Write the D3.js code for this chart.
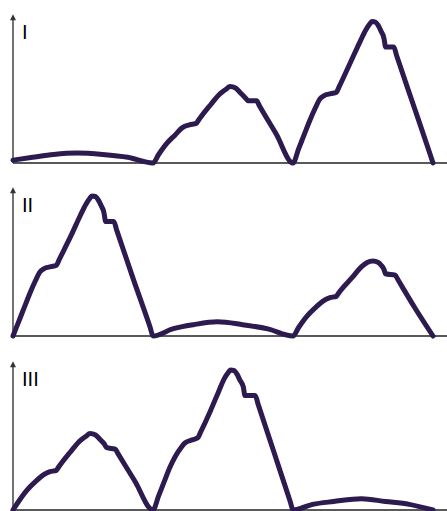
<!DOCTYPE html>
<html>
<head>
<meta charset="utf-8">
<script src="https://cdn.jsdelivr.net/npm/d3@7"></script>
<style>
  body { margin: 0; background: #fff; }
</style>
</head>
<body>
<div id="chart"></div>
<script>
// Panel labels
var panelLabels = ["I", "II", "III"];

// Curve points for each panel: [time, level]
var panelOne = [
  [0, 2], [14, 4], [29, 6], [46, 7], [64, 6], [82, 4], [100, 0],
  [104, 6], [110, 14], [116, 20], [121, 25], [126, 27], [131, 28], [132, 29.5], [141, 41], [148, 49],
  [152, 52], [155, 54], [159, 53], [162, 50], [166, 46], [168, 44], [174, 44], [176, 40.5], [188, 20.5], [200, 0],
  [204, 10], [208, 20], [212, 30], [216, 39], [219, 45], [222, 47.5], [227, 49], [231, 50], [233, 54],
  [241, 71], [248, 86], [252, 94], [255, 98.5], [256.5, 100], [259, 99.5], [261, 97], [263, 93], [265, 88],
  [265.5, 85], [266, 82], [272, 82], [274, 76], [286, 41], [298, 6], [300, 0]
];

var panelTwo = [
  [0, 0], [4, 10], [8, 20], [12, 30], [16, 39], [19, 45], [22, 47.5], [27, 49], [31, 50], [33, 54],
  [41, 70], [48, 85], [52, 93], [55, 97.5], [56.5, 99], [59, 98.5], [61, 96], [63, 92], [65, 87],
  [65.5, 84], [66, 81], [72, 81], [74, 75], [86, 40], [98, 6], [100, 0],
  [114, 5], [129, 8], [146, 10], [164, 8], [182, 5], [200, 0],
  [204, 6], [210, 14], [216, 20], [222, 25], [226, 27], [231, 28], [232, 29.5], [242, 41], [249, 49],
  [253, 52], [257, 53], [261, 52], [263, 50], [265, 47], [266, 44], [273, 43], [275, 39.7], [287, 20], [300, 0]
];

var panelThree = [
  [0, 0], [4, 6], [10, 14], [16, 20], [22, 25], [26, 27], [31, 28], [32, 29.5], [41, 41], [48, 49],
  [52, 52], [55, 54], [59, 53], [62, 50], [65, 47], [67, 44], [73, 43], [75, 39.8], [87, 20.5], [100, 0],
  [104, 10], [108, 20], [112, 30], [116, 38], [120, 44], [123, 47.5], [128, 49.5], [132, 51], [134, 55],
  [141, 70], [147, 84], [151, 93], [154, 97.5], [155.5, 99], [158, 98.5], [160, 96], [162, 92], [164.5, 87],
  [165, 84], [165.5, 81], [173, 81], [175, 75], [187, 39], [198, 6], [200, 0],
  [214, 4], [229, 6], [249, 8], [266, 6], [283, 4], [300, 0]
];

var panels = [panelOne, panelTwo, panelThree];

// Layout
var width = 447;
var height = 511;
var axisLeft = 13;
var baselines = [163, 336, 510];
var panelHeight = 150;

var svg = d3.select("#chart")
  .append("svg")
  .attr("width", width)
  .attr("height", height);

// Arrow head for the vertical axes (drawn along +x, rotated by orient)
svg.append("defs").append("marker")
  .attr("id", "arrow")
  .attr("viewBox", "0 0 10 10")
  .attr("refX", 2)
  .attr("refY", 5)
  .attr("markerWidth", 7)
  .attr("markerHeight", 6)
  .attr("markerUnits", "userSpaceOnUse")
  .attr("orient", "auto")
  .append("path")
  .attr("d", "M0,0 L10,5 L0,10 Z")
  .attr("fill", "#333");

var xScale = d3.scaleLinear()
  .domain([0, 310])
  .range([axisLeft, width]);

panels.forEach(function (data, i) {
  var base = baselines[i];

  var yScale = d3.scaleLinear()
    .domain([0, 106])
    .range([base, base - panelHeight]);

  var g = svg.append("g");

  // x axis
  g.append("line")
    .attr("x1", xScale(0))
    .attr("x2", xScale(310))
    .attr("y1", base)
    .attr("y2", base)
    .attr("stroke", "#222")
    .attr("stroke-width", 1.5);

  // y axis with arrow
  g.append("line")
    .attr("x1", xScale(0))
    .attr("x2", xScale(0))
    .attr("y1", base)
    .attr("y2", yScale(106) + 6)
    .attr("stroke", "#444")
    .attr("stroke-width", 1.5)
    .attr("marker-end", "url(#arrow)");

  var line = d3.line()
    .x(function (d) { return xScale(d[0]); })
    .y(function (d) { return yScale(d[1]); })
    .curve(d3.curveMonotoneX);

  g.append("path")
    .datum(data)
    .attr("fill", "none")
    .attr("stroke", "#2d1a4f")
    .attr("stroke-width", 5)
    .attr("stroke-linejoin", "round")
    .attr("stroke-linecap", "round")
    .attr("d", line);

  // panel label
  g.append("text")
    .attr("x", 22)
    .attr("y", base - 124)
    .style("font-family", "DejaVu Sans, sans-serif")
    .style("font-size", "19px")
    .style("fill", "#000")
    .text(panelLabels[i]);
});
</script>
</body>
</html>
